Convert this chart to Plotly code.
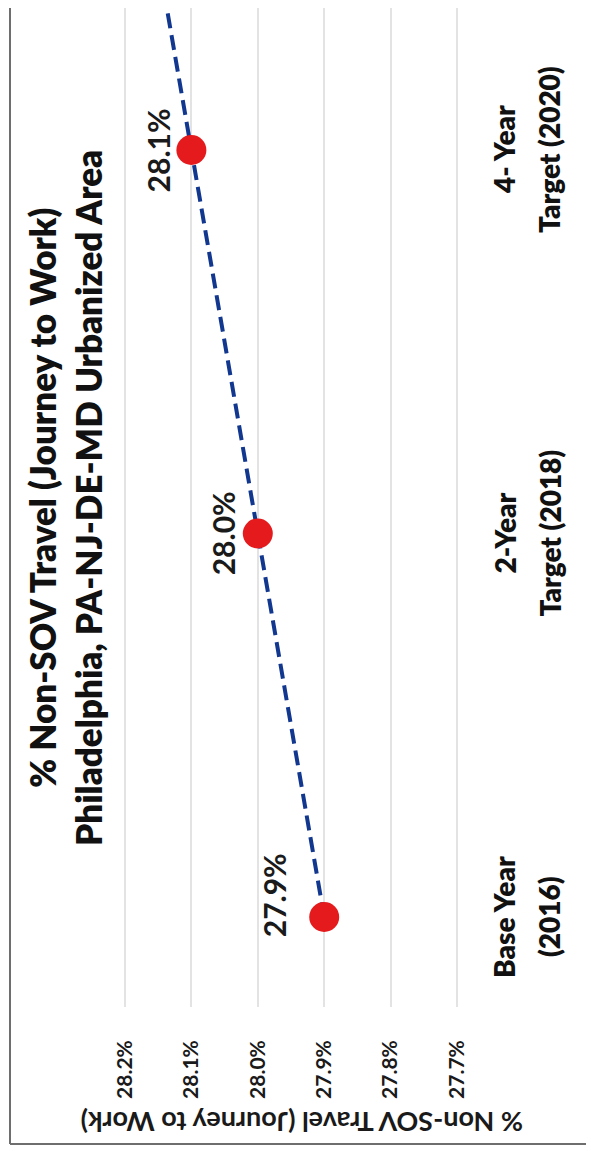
import numpy as np
import plotly.graph_objects as go

# ---- data ----
cat_line1 = ["Base Year", "2-Year", "4- Year"]
cat_line2 = ["(2016)", "Target (2018)", "Target (2020)"]
values = [27.9, 28.0, 28.1]          # % Non-SOV travel
value_ticks = [28.2, 28.1, 28.0, 27.9, 27.8, 27.7]
value_ticktext = [f"{v:.1f}%" for v in value_ticks]

title_lines = ["% Non-SOV Travel (Journey to Work)",
               "Philadelphia, PA-NJ-DE-MD Urbanized Area"]
axis_title = "% Non-SOV Travel (Journey to Work)"

# label nudges (style only, in pixels)
label_dx = [-50, -35, -33]
label_dy = [22, 0, 0]

# ---- layout geometry (pixels, in page coordinates) ----
OFF = 8                       # default body margin of the html page
W, H = 594 - OFF, 1156 - OFF  # figure size
VMAX, VMIN = 28.215, 27.685   # value axis range (reversed on screen)
PPU = 664.0                   # pixels per 1.0 percentage point
X_VMAX = 125 - (VMAX - 28.2) * PPU
X_VMIN = 457 + (27.7 - VMIN) * PPU
PLOT_BOTTOM = 1007
L = int(round(X_VMAX - OFF))
R = int(round(W - (X_VMIN - OFF)))
T = 0
B = int(round(H - (PLOT_BOTTOM - OFF)))
PW, PH = W - L - R, H - T - B


def pxx(px):
    return (px - OFF - L) / PW


def pxy(py):
    return (H - B - (py - OFF)) / PH


FONT = "Lato"
TXT = "#1a1a1a"
idx = list(range(len(values)))

# linear trend (extended forward, clipped by axis range)
coef = np.polyfit(idx, values, 1)
trend_x = np.array([0, len(values)])
trend_v = np.polyval(coef, trend_x)

CAT_PX = 383.5
y_lo = -(PLOT_BOTTOM - 917) / CAT_PX
y_hi = y_lo + PH / CAT_PX

fig = go.Figure()
fig.add_trace(go.Scatter(
    x=trend_v, y=trend_x, mode="lines",
    line=dict(color="#12378f", width=4, dash="15px,7px"),
    hoverinfo="skip", showlegend=False))
fig.add_trace(go.Scatter(
    x=values, y=idx, mode="markers",
    marker=dict(color="#e41a1c", size=30, line=dict(width=0)),
    showlegend=False))

ann = []
for i, v in enumerate(values):
    ann.append(dict(x=v, y=i, xref="x", yref="y", text=f"{v:.1f}%",
                    textangle=-90, showarrow=False,
                    xshift=label_dx[i], yshift=label_dy[i],
                    xanchor="center", yanchor="middle",
                    font=dict(family=FONT, size=30, color=TXT, weight=700)))
for i, (a, b) in enumerate(zip(cat_line1, cat_line2)):
    ann.append(dict(x=1, y=i, xref="paper", yref="y", text=a, textangle=-90,
                    showarrow=False, xshift=504 - X_VMIN, xanchor="center",
                    yanchor="middle",
                    font=dict(family=FONT, size=28, color="#111111", weight=800)))
    ann.append(dict(x=1, y=i, xref="paper", yref="y", text=b, textangle=-90,
                    showarrow=False, xshift=549 - X_VMIN, xanchor="center",
                    yanchor="middle",
                    font=dict(family=FONT, size=28, color="#111111", weight=800)))
ann.append(dict(x=pxx(65), y=pxy(498), xref="paper", yref="paper",
                text="<br>".join(title_lines), textangle=-90, showarrow=False,
                xanchor="center", yanchor="middle", align="center",
                font=dict(family=FONT, size=35, color="#111111", weight=800)))
ann.append(dict(x=pxx(302), y=pxy(1123), xref="paper", yref="paper",
                text=axis_title, textangle=180, showarrow=False,
                xanchor="center", yanchor="middle",
                font=dict(family=FONT, size=27, color=TXT, weight=700)))

shapes = [
    dict(type="line", xref="paper", yref="paper", x0=pxx(10), x1=pxx(10),
         y0=pxy(1144), y1=pxy(-20), line=dict(color="#6e6e6e", width=2)),
    dict(type="line", xref="paper", yref="paper", x0=pxx(10), x1=pxx(620),
         y0=pxy(1144), y1=pxy(1144), line=dict(color="#6e6e6e", width=2)),
]

fig.update_layout(
    width=W, height=H,
    margin=dict(l=L, r=R, t=T, b=B, autoexpand=False),
    paper_bgcolor="white", plot_bgcolor="white",
    showlegend=False,
    annotations=ann, shapes=shapes,
    xaxis=dict(range=[VMAX, VMIN], tickvals=value_ticks,
               ticktext=value_ticktext, tickangle=-90,
               showgrid=True, gridcolor="#e3e3e3", gridwidth=1.5,
               zeroline=False, showline=False, ticks="",
               ticklabelstandoff=28, automargin=False,
               tickfont=dict(family=FONT, size=21, color=TXT, weight=700)),
    yaxis=dict(range=[y_lo, y_hi], showgrid=False, zeroline=False,
               showline=False, showticklabels=False, ticks="",
               automargin=False),
)

fig.write_html("out.html")
